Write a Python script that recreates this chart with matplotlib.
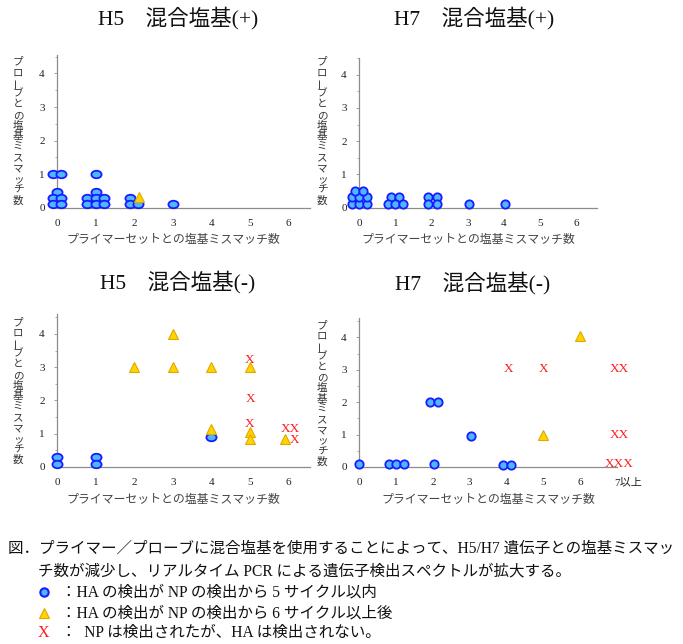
import matplotlib
matplotlib.use("Agg")
import matplotlib.pyplot as plt
import matplotlib.transforms as mtrans
import numpy as np
from matplotlib.path import Path
from matplotlib.ticker import MultipleLocator

plt.rcParams['font.family'] = ['Liberation Serif', 'Noto Sans CJK JP']

# ---------------- data ----------------
titles = ["H5　混合塩基(+)", "H7　混合塩基(+)", "H5　混合塩基(-)", "H7　混合塩基(-)"]
xlabel = "プライマーセットとの塩基ミスマッチ数"
ylabel = "プローブとの塩基ミスマッチ数"
xticks_std = ["0", "1", "2", "3", "4", "5", "6"]
xticks_h7m = ["0", "1", "2", "3", "4", "5", "6", "7以上"]
yticks = ["0", "1", "2", "3", "4"]

# H5 (+)
h5p_circ_x = [-0.1, 0.1, 0, -0.1, 0.1, -0.1, 0.1, 1, 1, 0.78, 1, 1.22, 0.78, 1, 1.22, 1.9, 1.9, 2.1, 3]
h5p_circ_y = [1.0, 1.0, 0.48, 0.28, 0.28, 0.1, 0.1, 1.0, 0.48, 0.28, 0.28, 0.28, 0.1, 0.1, 0.1, 0.28, 0.1, 0.1, 0.1]
h5p_tri_x = [2.12]
h5p_tri_y = [0.33]
h5p_x_x, h5p_x_y, h5p_x_lab = [], [], []

# H7 (+)
h7p_circ_x = [-0.21, 0, 0.22, -0.21, 0, 0.22, -0.12, 0.11, 0.87, 1.1, 0.8, 1.0, 1.22, 1.91, 2.14, 1.91, 2.14, 3.04, 4.04]
h7p_circ_y = [0.1, 0.1, 0.1, 0.33, 0.33, 0.33, 0.51, 0.51, 0.33, 0.33, 0.1, 0.1, 0.1, 0.33, 0.33, 0.1, 0.1, 0.1, 0.1]
h7p_tri_x, h7p_tri_y = [], []
h7p_x_x, h7p_x_y, h7p_x_lab = [], [], []

# H5 (-)
h5m_circ_x = [0, 0, 1, 1, 4]
h5m_circ_y = [0.29, 0.08, 0.29, 0.08, 0.89]
h5m_tri_x = [2, 3, 3, 4, 4, 5, 5, 5, 5.91]
h5m_tri_y = [3.0, 4.0, 3.0, 3.0, 1.13, 3.0, 1.05, 0.85, 0.83]
h5m_x_x = [5, 5.02, 5, 6.04, 6.17]
h5m_x_y = [3.22, 2.04, 1.29, 1.13, 0.81]
h5m_x_lab = ["X", "X", "X", "XX", "X"]

# H7 (-)
h7m_circ_x = [0, 0.8, 1.01, 1.21, 2.02, 1.92, 2.13, 3.03, 3.9, 4.13]
h7m_circ_y = [0.08, 0.08, 0.08, 0.08, 0.08, 2.0, 2.0, 0.97, 0.07, 0.07]
h7m_tri_x = [6.0, 5.0]
h7m_tri_y = [4.03, 0.99]
h7m_x_x = [4.05, 5.0, 7.05, 7.05, 7.05]
h7m_x_y = [3.02, 3.02, 3.02, 0.99, 0.08]
h7m_x_lab = ["X", "X", "XX", "XX", "XXX"]

caption_lines = [
    "図．プライマー／プローブに混合塩基を使用することによって、H5/H7 遺伝子との塩基ミスマッ",
    "チ数が減少し、リアルタイム PCR による遺伝子検出スペクトルが拡大する。",
]
legend_texts = [
    "：HA の検出が NP の検出から 5 サイクル以内",
    "：HA の検出が NP の検出から 6 サイクル以上後",
    "：  NP は検出されたが、HA は検出されない。",
]

# ---------------- style ----------------
W, H = 683, 644
fig = plt.figure(figsize=(W / 100, H / 100), dpi=100)

CIRC_FC = "#4db8ff"
CIRC_EC = "#1a1aff"
TRI_FC = "#ffd400"
TRI_EC = "#e0a800"
XCOL = "#ff1a1a"
SPINE = "#8c8c8c"
TXT = "#222222"

circ = Path.unit_circle()
ellipse = Path(circ.vertices * np.array([1.35, 1.0]), circ.codes)


def px_rect(x0, x1, ybot, ytop):
    return [x0 / W, 1 - ybot / H, (x1 - x0) / W, (ybot - ytop) / H]


panels = [
    dict(rect=px_rect(57.3, 310, 207.7, 55), xlim=6.56, ylim=4.55, xt=xticks_std,
         cx=h5p_circ_x, cy=h5p_circ_y, tx=h5p_tri_x, ty=h5p_tri_y,
         xx=h5p_x_x, xy=h5p_x_y, xl=h5p_x_lab, mk=ellipse, ms=7.3, tri_ms=7.0,
         title=titles[0], title_xy=(178, 18), xlab_xy=(173, 240), ylab_x=18, ylab_y0=61.7, ylab_y1=200.5),
    dict(rect=px_rect(359.3, 597, 207.7, 58), xlim=6.57, ylim=4.5, xt=xticks_std,
         cx=h7p_circ_x, cy=h7p_circ_y, tx=h7p_tri_x, ty=h7p_tri_y,
         xx=h7p_x_x, xy=h7p_x_y, xl=h7p_x_lab, mk='o', ms=6.0, tri_ms=7.0,
         title=titles[1], title_xy=(474, 18), xlab_xy=(468, 240), ylab_x=322, ylab_y0=61.7, ylab_y1=200.5),
    dict(rect=px_rect(57.3, 310, 467, 314), xlim=6.56, ylim=4.6, xt=xticks_std,
         cx=h5m_circ_x, cy=h5m_circ_y, tx=h5m_tri_x, ty=h5m_tri_y,
         xx=h5m_x_x, xy=h5m_x_y, xl=h5m_x_lab, mk=ellipse, ms=7.3, tri_ms=7.6,
         title=titles[2], title_xy=(178, 282), xlab_xy=(173, 500), ylab_x=18, ylab_y0=322, ylab_y1=460),
    dict(rect=px_rect(359.3, 617, 467, 318.3), xlim=6.98, ylim=4.59, xt=xticks_h7m,
         cx=h7m_circ_x, cy=h7m_circ_y, tx=h7m_tri_x, ty=h7m_tri_y,
         xx=h7m_x_x, xy=h7m_x_y, xl=h7m_x_lab, mk='o', ms=6.0, tri_ms=7.0,
         title=titles[3], title_xy=(473, 283), xlab_xy=(488, 500), ylab_x=322, ylab_y0=325, ylab_y1=461.7),
]

for p in panels:
    ax = fig.add_axes(p["rect"])
    ax.set_xlim(0, p["xlim"])
    ax.set_ylim(0, p["ylim"])
    for s in ["top", "right"]:
        ax.spines[s].set_visible(False)
    for s in ["left", "bottom"]:
        ax.spines[s].set_color(SPINE)
        ax.spines[s].set_linewidth(0.9)
    ax.set_xticks(range(len(p["xt"])))
    ax.set_xticklabels(p["xt"])
    ax.set_yticks(range(len(yticks)))
    ax.set_yticklabels(yticks)
    ax.yaxis.set_minor_locator(MultipleLocator(0.5))
    ax.tick_params(axis='x', length=0, pad=8, labelsize=8, labelcolor=TXT)
    ax.tick_params(axis='y', which='major', length=2.5, width=0.6, color=SPINE, pad=6.5, labelsize=8, labelcolor=TXT)
    ax.tick_params(axis='y', which='minor', length=1.5, width=0.5, color=SPINE)
    if p["xt"] is xticks_h7m:
        lab = ax.get_xticklabels()[-1]
        lab.set_horizontalalignment('left')
        lab.set_transform(lab.get_transform() + mtrans.ScaledTranslation(-3 / 100, 0, fig.dpi_scale_trans))
    ax.set_facecolor('none')

    ax.plot(p["cx"], p["cy"], linestyle='none', marker=p["mk"], ms=p["ms"],
            mfc=CIRC_FC, mec=CIRC_EC, mew=1.3, clip_on=False, zorder=3)
    if p["tx"]:
        ax.plot(p["tx"], p["ty"], linestyle='none', marker='^', ms=p["tri_ms"],
                mfc=TRI_FC, mec=TRI_EC, mew=0.8, clip_on=False, zorder=3)
    for xv, yv, lb in zip(p["xx"], p["xy"], p["xl"]):
        ax.text(xv, yv, lb, color=XCOL, fontsize=9.5, ha='center', va='center',
                family=['Liberation Serif'], clip_on=False, zorder=4)

    # title
    fig.text(p["title_xy"][0] / W, 1 - p["title_xy"][1] / H, p["title"], fontsize=15.5,
             ha='center', va='center', color='#111111',
             family=['Liberation Serif', 'Noto Sans CJK JP'])
    # x label
    fig.text(p["xlab_xy"][0] / W, 1 - p["xlab_xy"][1] / H, xlabel, fontsize=8.6,
             ha='center', va='center', color='#444444', family=['Noto Sans CJK JP'])
    # vertical y label (stacked characters, long-vowel mark turned upright)
    chars = list(ylabel)
    ys = np.linspace(p["ylab_y0"], p["ylab_y1"], len(chars))
    for ch, yy in zip(chars, ys):
        rot = 90 if ch == "ー" else 0
        fig.text(p["ylab_x"] / W, 1 - yy / H, ch, fontsize=7.6, ha='center', va='center',
                 rotation=rot, color='#333333', family=['Noto Sans CJK JP'])

# ---------------- caption ----------------
cap_font = ['Liberation Serif', 'Noto Sans CJK JP']
fig.text(8 / W, 1 - 549 / H, caption_lines[0], fontsize=11.2, ha='left', va='center',
         color='#111111', family=cap_font)
fig.text(38 / W, 1 - 571 / H, caption_lines[1], fontsize=11.2, ha='left', va='center',
         color='#111111', family=cap_font)

leg_y = [592, 613, 633]
fig.lines.append(plt.Line2D([44 / W], [1 - leg_y[0] / H], transform=fig.transFigure,
                            marker='o', ms=6, mfc=CIRC_FC, mec=CIRC_EC, mew=1.5, linestyle='none'))
fig.lines.append(plt.Line2D([44 / W], [1 - leg_y[1] / H], transform=fig.transFigure,
                            marker='^', ms=7.5, mfc=TRI_FC, mec=TRI_EC, mew=0.8, linestyle='none'))
fig.text(43 / W, 1 - leg_y[2] / H, "X", fontsize=11.5, ha='center', va='center',
         color=XCOL, family=['Liberation Serif'])
for t, yy in zip(legend_texts, leg_y):
    fig.text(61 / W, 1 - yy / H, t, fontsize=11.2, ha='left', va='center',
             color='#111111', family=cap_font)

fig.savefig("out.png", dpi=100)
